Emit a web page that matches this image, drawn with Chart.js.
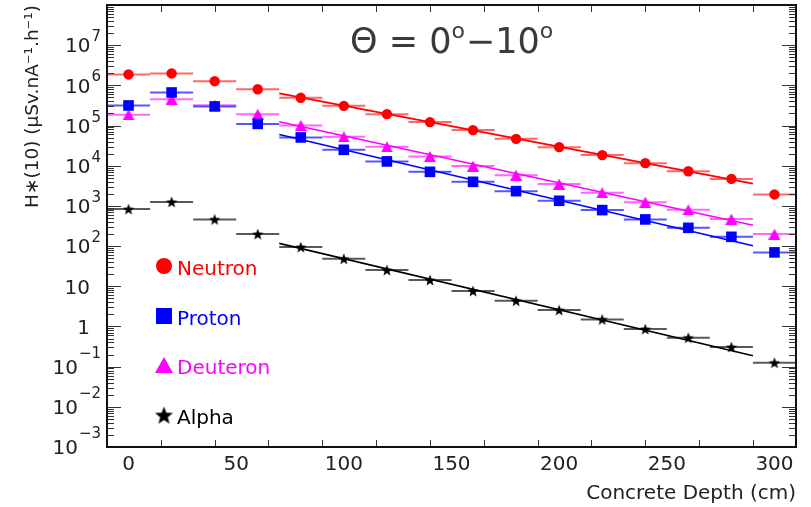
<!DOCTYPE html>
<html>
<head>
<meta charset="utf-8">
<script src="https://cdn.jsdelivr.net/npm/chart.js@4/dist/chart.umd.min.js"></script>
<style>
html,body{margin:0;padding:0;background:#fff;}
#wrap{position:relative;width:811px;height:507px;}
</style>
</head>
<body>
<div id="wrap"><canvas id="c" width="811" height="507"></canvas></div>
<script>
// ---------------- data ----------------
const depths   = [0, 20, 40, 60, 80, 100, 120, 140, 160, 180, 200, 220, 240, 260, 280, 300];
const neutron  = [1.87e6, 1.98e6, 1.27e6, 8.0e5, 4.9e5, 3.09e5, 1.92e5, 1.22e5, 7.7e4, 4.67e4, 2.9e4, 1.84e4, 1.16e4, 7.3e3, 4.7e3, 1.93e3];
const proton   = [3.16e5, 6.65e5, 2.99e5, 1.10e5, 5.06e4, 2.49e4, 1.28e4, 7.05e3, 3.98e3, 2.33e3, 1.34e3, 787, 461, 285, 170, 69.7];
const deuteron = [1.85e5, 4.54e5, 3.22e5, 1.92e5, 1.0e5, 5.24e4, 2.95e4, 1.70e4, 9.8e3, 5.83e3, 3.49e3, 2.12e3, 1.24e3, 800, 470, 199];
const alpha    = [832, 1.26e3, 461, 199, 94.4, 48.3, 25.3, 14.3, 7.6, 4.36, 2.56, 1.50, 0.861, 0.524, 0.308, 0.125];
const binHalfWidth = 10;
// exponential fits (straight lines on the log axis) between these depths
const fitRange     = [70, 290];
const neutronFit   = [6.3e5, 3.6e3];
const protonFit    = [6.0e4, 102];
const deuteronFit  = [1.24e5, 330];
const alphaFit     = [117, 0.187];
const seriesNames  = ['Neutron', 'Proton', 'Deuteron', 'Alpha'];
const xTickValues  = [0, 50, 100, 150, 200, 250, 300];
const yDecades     = [-3, -2, -1, 0, 1, 2, 3, 4, 5, 6, 7];
const xTitle = 'Concrete Depth (cm)';
const yTitle = 'H\u2217(10) (\u03bcSv.nA\u207b\u00b9.h\u207b\u00b9)';

// ---------------- styling ----------------
const FONT = '"DejaVu Sans", "Liberation Sans", sans-serif';
const TXT = '#222';
const colors = ['#ff0000', '#0000ff', '#ff00ff', '#000000'];
const barColors = ['rgba(255,40,40,0.7)', 'rgba(30,30,255,0.75)', 'rgba(255,40,255,0.7)', 'rgba(0,0,0,0.65)'];

function triangleImg(w, h, col) {
  const c = document.createElement('canvas');
  c.width = w; c.height = h;
  const g = c.getContext('2d');
  g.fillStyle = col;
  g.beginPath(); g.moveTo(w / 2, 0); g.lineTo(w, h); g.lineTo(0, h); g.closePath(); g.fill();
  return c;
}
function starImg(R, col) {
  const s = Math.ceil(2 * R + 2);
  const c = document.createElement('canvas');
  c.width = s; c.height = s;
  const g = c.getContext('2d');
  g.fillStyle = col;
  g.beginPath();
  const cx = s / 2, cy = s / 2 + R * 0.1;
  for (let i = 0; i < 10; i++) {
    const r = i % 2 === 0 ? R : R * 0.42;
    const a = -Math.PI / 2 + i * Math.PI / 5;
    const px = cx + r * Math.cos(a), py = cy + r * Math.sin(a);
    if (i === 0) g.moveTo(px, py); else g.lineTo(px, py);
  }
  g.closePath(); g.fill();
  return c;
}
const triSmall = triangleImg(12, 11, colors[2]);
const starSmall = starImg(6, colors[3]);

const allSeries = [neutron, proton, deuteron, alpha];
const allFits = [neutronFit, protonFit, deuteronFit, alphaFit];
const pointStyles = ['circle', 'rect', triSmall, starSmall];
const pointRadii = [5.2, 7.5, 6, 6];

const datasets = [];
allSeries.forEach((vals, s) => {
  datasets.push({
    label: seriesNames[s],
    data: depths.map((x, i) => ({x: x, y: vals[i]})),
    showLine: false,
    pointStyle: pointStyles[s],
    pointRadius: pointRadii[s],
    pointBackgroundColor: colors[s],
    pointBorderWidth: 0,
    pointBorderColor: colors[s],
    order: 0
  });
  const bars = [];
  depths.forEach((x, i) => {
    bars.push({x: x - binHalfWidth, y: vals[i]});
    bars.push({x: x + binHalfWidth, y: vals[i]});
    bars.push({x: x, y: null});
  });
  datasets.push({
    label: seriesNames[s] + ' bins',
    data: bars,
    showLine: true, spanGaps: false,
    borderColor: barColors[s], borderWidth: 2,
    pointRadius: 0, order: 2
  });
  datasets.push({
    label: seriesNames[s] + ' fit',
    data: fitRange.map((x, i) => ({x: x, y: allFits[s][i]})),
    showLine: true,
    borderColor: colors[s], borderWidth: 1.7,
    pointRadius: 0, order: 1
  });
});

// ---------------- decorations plugin ----------------
const decor = {
  id: 'decor',
  afterDraw(chart) {
    const {ctx, chartArea: a, scales: {x, y}} = chart;
    ctx.save();
    // inner ticks
    ctx.strokeStyle = '#333';
    ctx.lineWidth = 1;
    ctx.beginPath();
    for (let v = -10; v <= 310; v += 25) {
      if (v < x.min || v > x.max) continue;
      const px = Math.round(x.getPixelForValue(v)) + 0.5;
      const len = (v % 50 === 0) ? 14 : 7;
      ctx.moveTo(px, a.bottom); ctx.lineTo(px, a.bottom - len);
      ctx.moveTo(px, a.top); ctx.lineTo(px, a.top + len);
    }
    for (let n = -3; n <= 7; n++) {
      for (let m = 1; m <= 9; m++) {
        const v = m * Math.pow(10, n);
        if (v < y.min || v > y.max) continue;
        const py = Math.round(y.getPixelForValue(v)) + 0.5;
        const len = m === 1 ? 14 : 7;
        ctx.moveTo(a.left, py); ctx.lineTo(a.left + len, py);
        ctx.moveTo(a.right, py); ctx.lineTo(a.right - len, py);
      }
    }
    ctx.stroke();
    // frame
    ctx.strokeStyle = '#111';
    ctx.lineWidth = 2;
    ctx.strokeRect(a.left, a.top, a.right - a.left, a.bottom - a.top);

    // y tick labels with superscript exponents
    ctx.fillStyle = TXT;
    ctx.textBaseline = 'alphabetic';
    yDecades.forEach(n => {
      const py = y.getPixelForValue(Math.pow(10, n));
      ctx.font = '20px ' + FONT;
      if (n === 0 || n === 1) {
        ctx.textAlign = 'right';
        ctx.fillText(n === 0 ? '1' : '10', 90, py + 7.3);
        return;
      }
      const e = n < 0 ? '\u2212' + (-n) : String(n);
      ctx.font = '15px ' + FONT;
      const w = ctx.measureText(e).width;
      ctx.textAlign = 'left';
      ctx.fillText(e, 101 - w, py - (n < 0 ? 9 : 4));
      ctx.font = '20px ' + FONT;
      ctx.textAlign = 'right';
      ctx.fillText('10', 100 - w, py + 7.3);
    });

    // plot title  Θ = 0°–10°
    ctx.fillStyle = '#3a3a3a';
    ctx.textAlign = 'left';
    let tx = 350;
    const base = 53;
    const parts = [['\u0398 = 0', 35, 0], ['o', 22, -15], ['\u221210', 35, 0], ['o', 22, -15]];
    parts.forEach(([t, sz, dy]) => {
      ctx.font = sz + 'px ' + FONT;
      ctx.fillText(t, tx, base + dy);
      tx += ctx.measureText(t).width + (sz < 30 ? 1 : 0);
    });

    // legend
    const lx = 164;
    const rows = [266, 316, 365, 415];
    rows.forEach((ly, s) => {
      ctx.fillStyle = colors[s];
      if (s === 0) {
        ctx.beginPath(); ctx.arc(lx, ly, 8, 0, Math.PI * 2); ctx.fill();
      } else if (s === 1) {
        ctx.fillRect(lx - 8, ly - 8, 16, 16);
      } else if (s === 2) {
        ctx.beginPath(); ctx.moveTo(lx, ly - 8); ctx.lineTo(lx + 9, ly + 8); ctx.lineTo(lx - 9, ly + 8); ctx.closePath(); ctx.fill();
      } else {
        const img = starImg(9.5, colors[3]);
        ctx.drawImage(img, lx - img.width / 2, ly - img.height / 2);
      }
      ctx.font = '20px ' + FONT;
      ctx.textAlign = 'left';
      ctx.fillText(seriesNames[s], 177, ly + 8.5);
    });
    ctx.restore();
  }
};

Chart.defaults.font.family = FONT;
Chart.defaults.color = TXT;

new Chart(document.getElementById('c'), {
  type: 'scatter',
  data: {datasets},
  options: {
    responsive: false,
    animation: false,
    devicePixelRatio: 1,
    layout: {padding: {left: 0, top: 5, right: 15, bottom: 0}, autoPadding: false},
    plugins: {legend: {display: false}, tooltip: {enabled: false}, title: {display: false}},
    elements: {line: {tension: 0}},
    scales: {
      x: {
        type: 'linear', min: -10, max: 310,
        grid: {display: false, drawTicks: false},
        border: {display: false},
        afterBuildTicks: s => { s.ticks = xTickValues.map(v => ({value: v})); },
        afterFit: s => { s.height = 60; },
        ticks: {font: {size: 20}, color: TXT, padding: 6, maxRotation: 0, autoSkip: false},
        title: {display: true, text: xTitle, align: 'end', font: {size: 20}, color: TXT, padding: {top: 0, bottom: 1}}
      },
      y: {
        type: 'logarithmic', min: 1e-3, max: 1e8,
        grid: {display: false, drawTicks: false},
        border: {display: false},
        afterBuildTicks: s => { s.ticks = yDecades.map(n => ({value: Math.pow(10, n)})); },
        afterFit: s => { s.width = 107; },
        ticks: {display: false},
        title: {display: true, text: yTitle, align: 'end', font: {size: 18.5}, color: TXT, padding: {top: 22, bottom: 0}}
      }
    }
  },
  plugins: [decor]
});
</script>
</body>
</html>
